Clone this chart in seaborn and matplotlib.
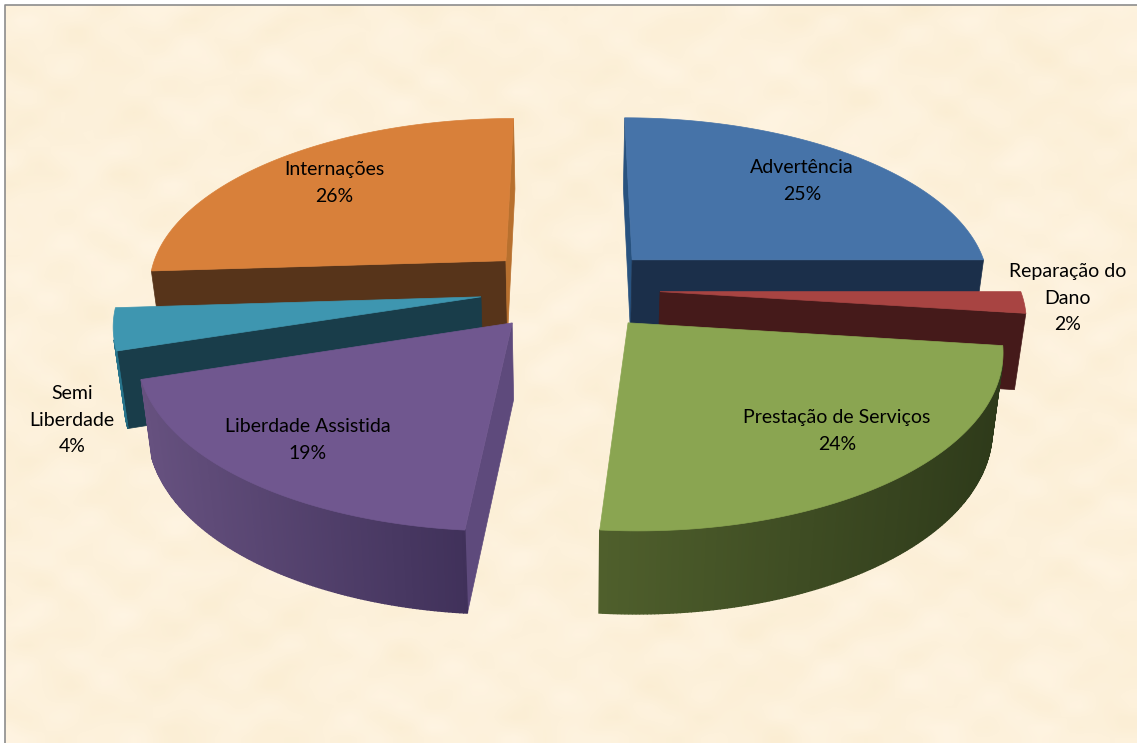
import numpy as np
import matplotlib
matplotlib.use('Agg')
import matplotlib.pyplot as plt
import seaborn as sns

# values (labels round these to whole percents)
LABELS = ['Advertência', 'Reparação do\nDano', 'Prestação de Serviços',
          'Liberdade Assistida', 'Semi\nLiberdade', 'Internações']
SHARES = [25.0, 2.0, 24.4, 18.7, 3.9, 26.0]

TOP_COLORS = ['#4673A8', '#A84442', '#8AA551', '#70578F', '#3E96B0', '#D8803A']
WALL_LEFT = ['#24436B', '#6B2A28', '#4F5F2C', '#66517F', '#2C7D96', '#6E4320']
WALL_RIGHT = ['#1B2F4A', '#521F1E', '#2E3A1A', '#40315A', '#1F5F73', '#57341A']
START_FACE = ['#28527F', '#451A1A', '#4F5F2C', '#5E4A7C', '#193D4A', '#57341A']
END_FACE = ['#1B2F4A', '#451A1A', '#4F5F2C', '#5E4A7C', '#193D4A', '#B8702E']

LABEL_X = [802, 1068, 837, 308, 72, 334]
LABEL_Y = [181, 298, 431, 440, 420, 183]

# projection of the 3d pie
CX, CY = 570, 289
RX, RY = 360, 169.1
PERSP = 0.138
EXPLODE = 0.25
HEIGHT = 75.6
TAPER = 0.025


def project(x, y):
    s = 1.0 / (1.0 + PERSP * y)
    return CX + RX * x * s, CY - RY * y * s, s


def face_visible(pts):
    x = np.array([p[0] for p in pts])
    y = np.array([p[1] for p in pts])
    return np.sum(x * np.roll(y, -1) - np.roll(x, -1) * y) < 0


def fill(ax, pts, color, lw=0.5):
    ax.fill([p[0] for p in pts], [p[1] for p in pts], color=color, lw=lw, ec=color)


def draw_wedge(ax, a1, a2, i):
    mid = np.radians((a1 + a2) / 2)
    ox, oy = EXPLODE * np.sin(mid), EXPLODE * np.cos(mid)
    angs = np.radians(np.linspace(a1, a2, max(int((a2 - a1) * 2), 8)))
    rim = [project(ox + np.sin(a), oy + np.cos(a)) for a in angs]
    apex = project(ox, oy)

    def low(p):
        return (CX + (p[0] - CX) * (1 - TAPER), p[1] + HEIGHT * (1 + 0.5 * (p[2] - 1)))

    top = [apex[:2]] + [p[:2] for p in rim]

    first = [apex[:2], rim[0][:2], low(rim[0]), low(apex)]
    if face_visible(first):
        fill(ax, first, START_FACE[i])
    last = [rim[-1][:2], apex[:2], low(apex), low(rim[-1])]
    if face_visible(last):
        fill(ax, last, END_FACE[i])

    # outer wall, shaded from left to right
    xs = [p[0] for p in rim]
    ramp = sns.blend_palette([WALL_LEFT[i], WALL_RIGHT[i]], 256)
    for p, q in zip(rim[:-1], rim[1:]):
        quad = [p[:2], q[:2], low(q), low(p)]
        if face_visible(quad):
            t = ((p[0] + q[0]) / 2 - min(xs)) / max(max(xs) - min(xs), 1)
            fill(ax, quad, ramp[int(t * 255)], lw=1.0)

    fill(ax, top, TOP_COLORS[i])


sns.set_theme(style='white')
plt.rcParams['font.family'] = ['Lato', 'DejaVu Sans']

fig = plt.figure(figsize=(11.37, 7.43), dpi=100)
ax = fig.add_axes([0, 0, 1, 1])
ax.axis('off')

# parchment backdrop
gx, gy = np.meshgrid(np.linspace(0, 1, 110), np.linspace(0, 1, 72))
mottle = (np.sin(37 * gx + 2.3 * np.sin(29 * gy)) * np.sin(41 * gy + 1.7 * np.cos(23 * gx))
          + 0.7 * np.sin(83 * gx + 11 * gy) * np.sin(67 * gy - 13 * gx)
          + 0.5 * np.sin(131 * gx - 7 * gy) * np.sin(113 * gy + 17 * gx))
base = np.array([253, 241, 219]) / 255
tint = np.array([0.004, 0.007, 0.016])
paper = np.clip(base[None, None, :] + mottle[:, :, None] * tint, 0, 1)
ax.imshow(paper, extent=(5, 1137, 743, 5), aspect='auto', interpolation='bilinear', zorder=0)
ax.set_xlim(0, 1137)
ax.set_ylim(743, 0)
ax.plot([5, 5, 1137], [743, 5, 5], color='#8C8C8C', lw=1.2, zorder=1)

# clockwise from 12 o'clock
ends = np.cumsum(SHARES) * 3.6
starts = ends - np.array(SHARES) * 3.6
mids = np.radians((starts + ends) / 2)
order = np.argsort(-np.cos(mids))
for i in order:
    draw_wedge(ax, starts[i], ends[i], i)

for label, share, x, y in zip(LABELS, SHARES, LABEL_X, LABEL_Y):
    ax.text(x, y, f'{label}\n{share:.0f}%', ha='center', va='center', fontsize=14,
            color='black', linespacing=1.7, zorder=5)

fig.savefig('out.png', dpi=100)
